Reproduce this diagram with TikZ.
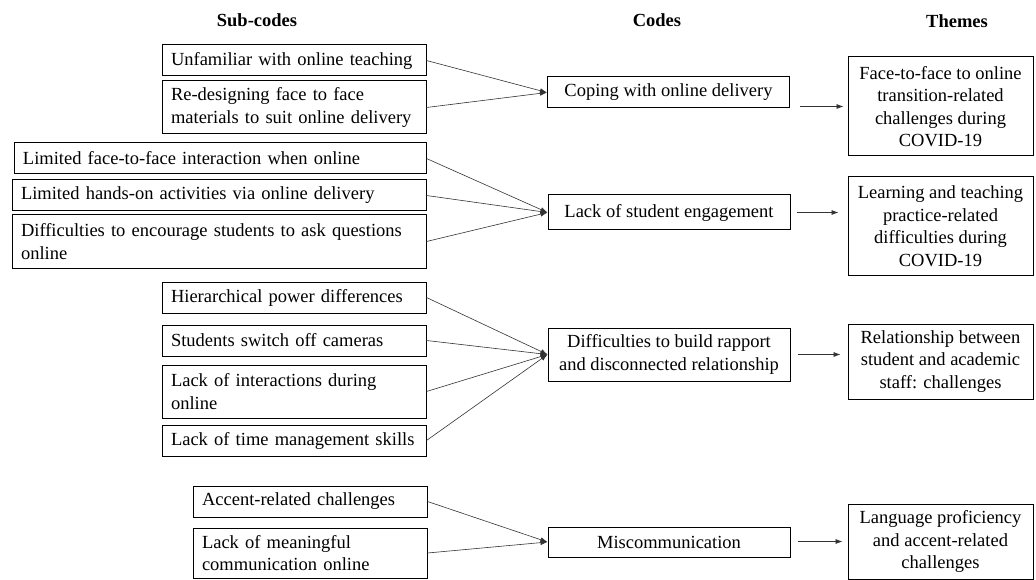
\documentclass[tikz,border=0pt]{standalone}
\usepackage{fontspec}
\setmainfont{Liberation Serif}
\usetikzlibrary{arrows.meta}
\begin{document}
\begin{tikzpicture}[x=1pt,y=-1pt,
  box/.style={draw=black, line width=1pt, inner ysep=2pt, font=\fontsize{18.5}{22.5}\selectfont},
  sub/.style={box, align=left, inner xsep=9pt},
  code/.style={box, align=center, inner xsep=4pt, minimum width=242pt},
  theme/.style={box, align=center, inner xsep=4pt, minimum width=185pt},
  link/.style={draw=black!80, line width=0.6pt, -{Latex[length=7pt,width=5pt]}},
  title/.style={font=\fontsize{18.5}{22}\selectfont\bfseries}]
\useasboundingbox (0,0) rectangle (1036,580);

% titles
\node[title] (h1) at (257,20) {Sub-codes};
\node[title] (h2) at (657,20) {Codes};
\node[title] (h3) at (957,21) {Themes};

% sub-codes
\node[sub, text width=246pt, minimum height=31pt] (s1) at (294,60.5) {Unfamiliar with online teaching};
\node[sub, text width=246pt, minimum height=53pt] (s2) at (294,107.5) {Re-designing face to face\\materials to suit online delivery};
\node[sub, text width=394pt, minimum height=31pt] (s3) at (220,158.5) {Limited face-to-face interaction when online};
\node[sub, text width=396pt, minimum height=31pt] (s4) at (219,195.5) {Limited hands-on activities via online delivery};
\node[sub, text width=396pt, minimum height=53pt] (s5) at (219,241.5) {Difficulties to encourage students to ask questions\\online};
\node[sub, text width=246pt, minimum height=31pt] (s6) at (294,297.5) {Hierarchical power differences};
\node[sub, text width=246pt, minimum height=31pt] (s7) at (294,340.5) {Students switch off cameras};
\node[sub, text width=246pt, minimum height=53pt] (s8) at (294,391.5) {Lack of interactions during\\online};
\node[sub, text width=246pt, minimum height=31pt] (s9) at (294,440.5) {Lack of time management skills};
\node[sub, text width=216pt, minimum height=31pt] (s10) at (310,501.5) {Accent-related challenges};
\node[sub, text width=216pt, minimum height=50pt] (s11) at (310,553) {Lack of meaningful\\communication online};

% codes
\node[code, minimum height=31pt] (c1) at (668.5,92.5) {Coping with online delivery};
\node[code, minimum height=35pt] (c2) at (669,212.5) {Lack of student engagement};
\node[code, minimum height=53pt] (c3) at (669,354.5) {Difficulties to build rapport\\and disconnected relationship};
\node[code, minimum height=30pt] (c4) at (669,542) {Miscommunication};

% themes
\node[theme, minimum height=99pt] (t1) at (940.5,106.5) {Face-to-face to online\\transition-related\\challenges during\\COVID-19};
\node[theme, minimum height=98pt] (t2) at (940.5,226) {Learning and teaching\\practice-related\\difficulties during\\COVID-19};
\node[theme, minimum height=75pt] (t3) at (940.5,361.5) {Relationship between\\student and academic\\staff: challenges};
\node[theme, minimum height=75pt] (t4) at (940.5,541.5) {Language proficiency\\and accent-related\\challenges};

% sub-codes to codes
\draw[link] (s1.east) -- (c1.west);
\draw[link] (s2.east) -- (c1.west);
\draw[link] (s3.east) -- (c2.west);
\draw[link] (s4.east) -- (c2.west);
\draw[link] (s5.east) -- (c2.west);
\draw[link] (s6.east) -- (c3.west);
\draw[link] (s7.east) -- (c3.west);
\draw[link] (s8.east) -- (c3.west);
\draw[link] (s9.east) -- (c3.west);
\draw[link] (s10.east) -- (c4.west);
\draw[link] (s11.east) -- (c4.west);

% codes to themes
\draw[link, shorten <=10pt, shorten >=4pt] (c1.east |- t1.west) -- (t1.west);
\draw[link, shorten <=6pt, shorten >=9pt] (c2.east) -- (c2.east -| t2.west);
\draw[link, shorten <=7pt, shorten >=7pt] (c3.east) -- (c3.east -| t3.west);
\draw[link, shorten <=7pt, shorten >=5pt] (c4.east |- t4.west) -- (t4.west);
\end{tikzpicture}
\end{document}
